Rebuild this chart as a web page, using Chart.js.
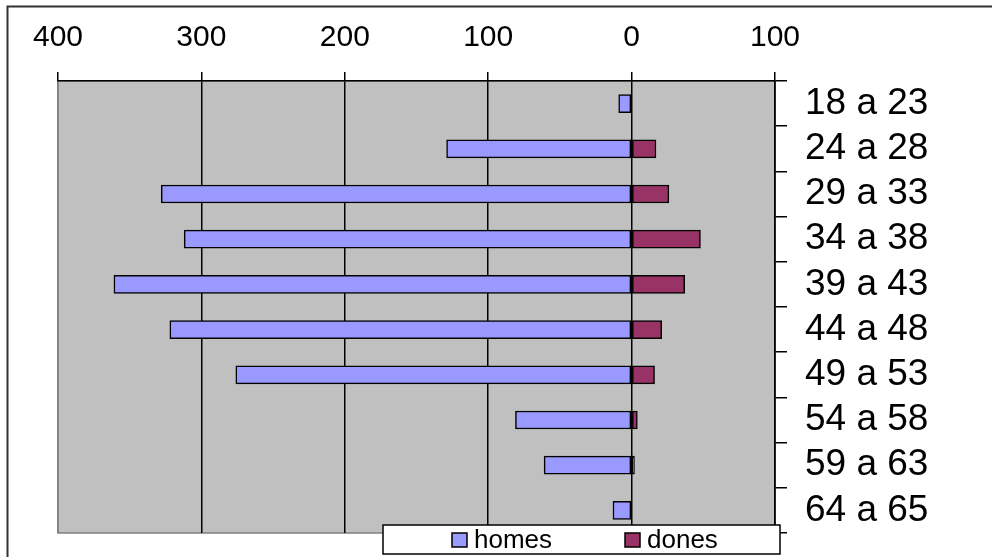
<!DOCTYPE html>
<html>
<head>
    <title>homes / dones per edat</title>
    <script src="https://cdn.jsdelivr.net/npm/chart.js"></script>
    <style>
        html, body { margin: 0; padding: 0; background: #fff; }
        #wrap { width: 992px; height: 557px; position: relative; }
    </style>
</head>
<body>
    <div id="wrap"><canvas id="pyramid"></canvas></div>

    <script>
        // age groups (top to bottom) and counts
        const ageGroups = ['18 a 23', '24 a 28', '29 a 33', '34 a 38', '39 a 43',
                           '44 a 48', '49 a 53', '54 a 58', '59 a 63', '64 a 65'];
        const homes = [9, 129, 328, 312, 361, 322, 276, 81, 61, 13];
        const dones = [0, 17, 26, 48, 37, 21, 16, 4, 2, 0];
        const xTicks = [-400, -300, -200, -100, 0, 100];

        const FONT = "'Liberation Sans', Arial, sans-serif";

        // gray plot area + outer frame
        const plotBackground = {
            id: 'plotBackground',
            beforeDraw(chart) {
                const { ctx, chartArea: a } = chart;
                ctx.save();
                ctx.fillStyle = '#fff';
                ctx.fillRect(0, 0, chart.width, chart.height);
                ctx.strokeStyle = '#333';
                ctx.lineWidth = 2;
                ctx.strokeRect(7.5, 6.5, 1100, 700);
                ctx.fillStyle = '#C0C0C0';
                ctx.fillRect(a.left, a.top, a.right - a.left, a.bottom - a.top);
                ctx.strokeStyle = '#808080';
                ctx.lineWidth = 1.5;
                ctx.strokeRect(a.left, a.top, a.right - a.left, a.bottom - a.top);
                ctx.restore();
            }
        };

        // excel style legend box sitting over the bottom of the plot
        const boxLegend = {
            id: 'boxLegend',
            afterDraw(chart) {
                const ctx = chart.ctx;
                ctx.save();
                ctx.fillStyle = '#fff';
                ctx.fillRect(383, 525, 397, 29);
                ctx.strokeStyle = '#000';
                ctx.lineWidth = 1.5;
                ctx.strokeRect(383, 525, 397, 29);
                const xs = [452, 625];
                ctx.font = '26px ' + FONT;
                ctx.textBaseline = 'middle';
                chart.data.datasets.forEach((ds, i) => {
                    const x = xs[i];
                    ctx.fillStyle = ds.backgroundColor;
                    ctx.fillRect(x, 533, 15, 14);
                    ctx.strokeRect(x, 533, 15, 14);
                    ctx.fillStyle = '#000';
                    ctx.fillText(ds.label, x + 22, 541);
                });
                ctx.restore();
            }
        };

        new Chart(document.getElementById('pyramid'), {
            type: 'bar',
            data: {
                labels: ageGroups,
                datasets: [{
                    label: 'homes',
                    data: homes.map(v => -v),
                    backgroundColor: '#9999FF',
                    borderColor: '#000',
                    borderWidth: 1.5,
                    borderSkipped: false,
                    barThickness: 18
                }, {
                    label: 'dones',
                    data: dones,
                    backgroundColor: '#993366',
                    borderColor: '#000',
                    borderWidth: 1.5,
                    borderSkipped: false,
                    barThickness: 18
                }]
            },
            options: {
                indexAxis: 'y',
                responsive: true,
                maintainAspectRatio: false,
                animation: false,
                layout: { padding: { left: 58, right: 0, top: 0, bottom: 24 } },
                plugins: {
                    legend: { display: false },
                    tooltip: { enabled: false }
                },
                scales: {
                    x: {
                        position: 'top',
                        stacked: true,
                        min: -400,
                        max: 100,
                        afterBuildTicks: scale => { scale.ticks = xTicks.map(v => ({ value: v })); },
                        afterFit: scale => {
                            scale.height = 81;
                            scale.paddingLeft = 0;
                            scale.paddingRight = 0;
                        },
                        ticks: {
                            callback: v => Math.abs(v),
                            color: '#000',
                            padding: 16,
                            maxRotation: 0,
                            font: { family: FONT, size: 30 }
                        },
                        grid: {
                            color: c => (c.tick && c.tick.value === -400) ? '#808080' : '#000',
                            tickColor: '#000',
                            lineWidth: 1.5,
                            tickLength: 9
                        },
                        border: { display: true, color: '#000', width: 1.5 }
                    },
                    y: {
                        position: 'right',
                        stacked: true,
                        afterFit: scale => {
                            scale.width = 217;
                            scale.paddingTop = 0;
                            scale.paddingBottom = 0;
                        },
                        ticks: {
                            color: '#000',
                            padding: 18,
                            autoSkip: false,
                            font: { family: FONT, size: 37 }
                        },
                        grid: {
                            drawOnChartArea: false,
                            color: '#000',
                            lineWidth: 1.5,
                            tickLength: 12,
                            offset: true
                        },
                        border: { display: true, color: '#000', width: 1.5 }
                    }
                }
            },
            plugins: [plotBackground, boxLegend]
        });
    </script>
</body>
</html>
